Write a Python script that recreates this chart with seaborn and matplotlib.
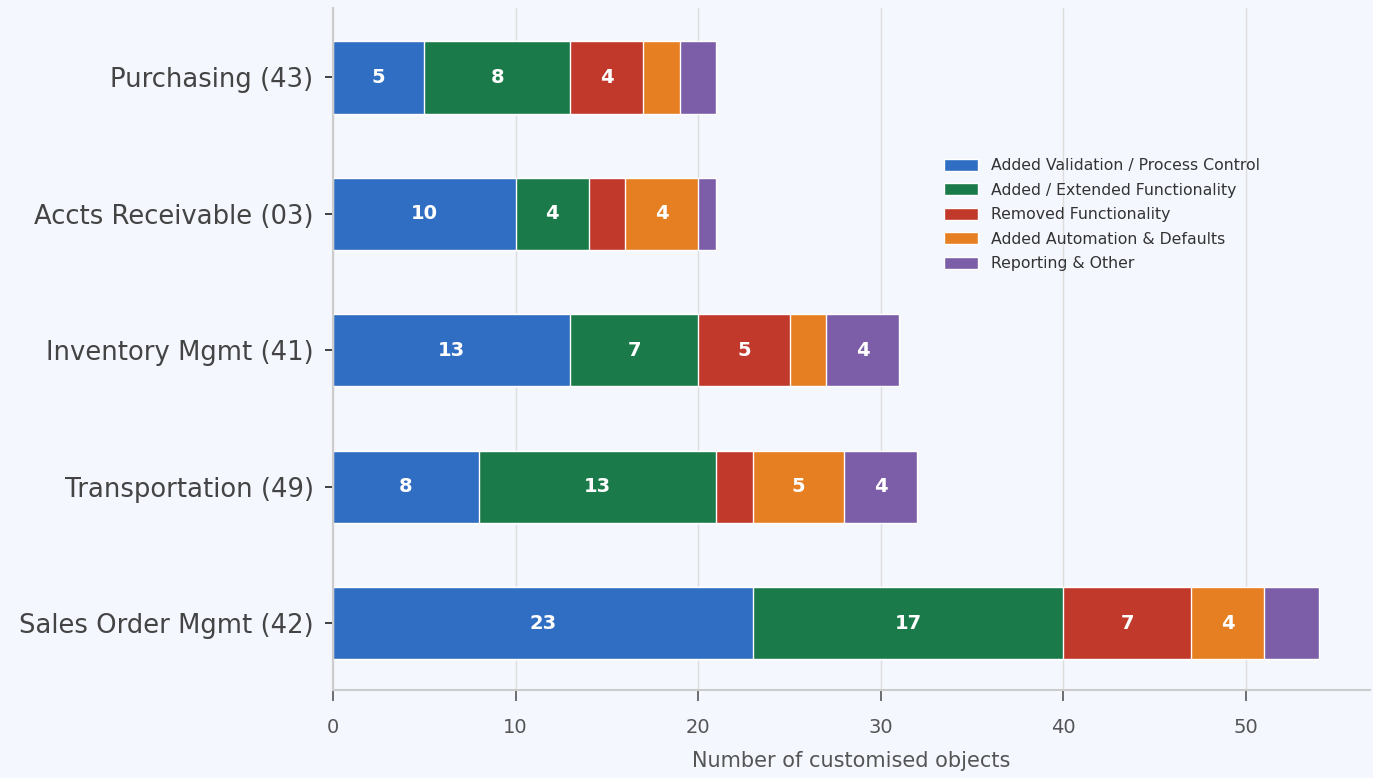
import numpy as np
import pandas as pd
import matplotlib.pyplot as plt
import seaborn as sns

# Data
modules = ["Purchasing (43)", "Accts Receivable (03)", "Inventory Mgmt (41)",
           "Transportation (49)", "Sales Order Mgmt (42)"]
categories = ["Added Validation / Process Control", "Added / Extended Functionality",
              "Removed Functionality", "Added Automation & Defaults", "Reporting & Other"]
validation = [5, 10, 13, 8, 23]
extended = [8, 4, 7, 13, 17]
removed = [4, 2, 5, 2, 7]
automation = [2, 4, 2, 5, 4]
reporting = [2, 1, 4, 4, 3]

colors = ["#2f6ec2", "#1b7a4a", "#c0392b", "#e67e22", "#7b5ea7"]
bg = "#f4f7fe"

sns.set_theme(style="whitegrid")
plt.rcParams['font.family'] = ['DejaVu Sans']

values = np.array([validation, extended, removed, automation, reporting])
cum = values.cumsum(axis=0)
starts = cum - values

fig, ax = plt.subplots(figsize=(13.73, 7.78), dpi=100)
fig.patch.set_facecolor(bg)
ax.set_facecolor(bg)

# draw cumulative bars from the longest down so each layer shows as a segment
for i in range(len(categories) - 1, -1, -1):
    df = pd.DataFrame({"module": modules, "total": cum[i]})
    sns.barplot(data=df, x="total", y="module", orient="h", color=colors[i],
                saturation=1, width=0.53, edgecolor="white", linewidth=1,
                label=categories[i], ax=ax)

# value labels for wider segments
for i in range(len(categories)):
    for j in range(len(modules)):
        v = values[i][j]
        if v >= 4:
            ax.text(starts[i][j] + v / 2, j, str(v), ha="center", va="center",
                    color="white", fontsize=14, fontweight="bold")

ax.set_xlim(0, 56.8)
ax.set_ylim(4.49, -0.51)
ax.set_xlabel("Number of customised objects", fontsize=15, color="#555555", labelpad=10)
ax.set_ylabel("")
ax.tick_params(axis="y", labelsize=18.6, colors="#444444", length=6, width=1.2,
               left=True, pad=8)
ax.tick_params(axis="x", labelsize=14, colors="#555555", length=8, width=1.2,
               bottom=True, pad=12)
ax.yaxis.set_tick_params(color="#222222")
ax.xaxis.set_tick_params(color="#555555")
ax.grid(axis="x", color="#dddddd", linewidth=1)
ax.grid(axis="y", visible=False)
ax.set_axisbelow(True)

for s in ["top", "right"]:
    ax.spines[s].set_visible(False)
ax.spines["left"].set_color("#cccccc")
ax.spines["left"].set_linewidth(1.5)
ax.spines["bottom"].set_color("#cccccc")
ax.spines["bottom"].set_linewidth(1.5)

handles, labels = ax.get_legend_handles_labels()
order = [labels.index(c) for c in categories]
ax.legend([handles[k] for k in order], categories, loc="upper left",
          bbox_to_anchor=(0.575, 0.80), frameon=False, fontsize=11.3,
          handlelength=2.2, handleheight=0.8, labelspacing=0.6,
          labelcolor="#333333")

fig.subplots_adjust(left=0.2425, right=0.998, bottom=0.113, top=0.99)
fig.savefig("out.png", dpi=100, facecolor=bg)
